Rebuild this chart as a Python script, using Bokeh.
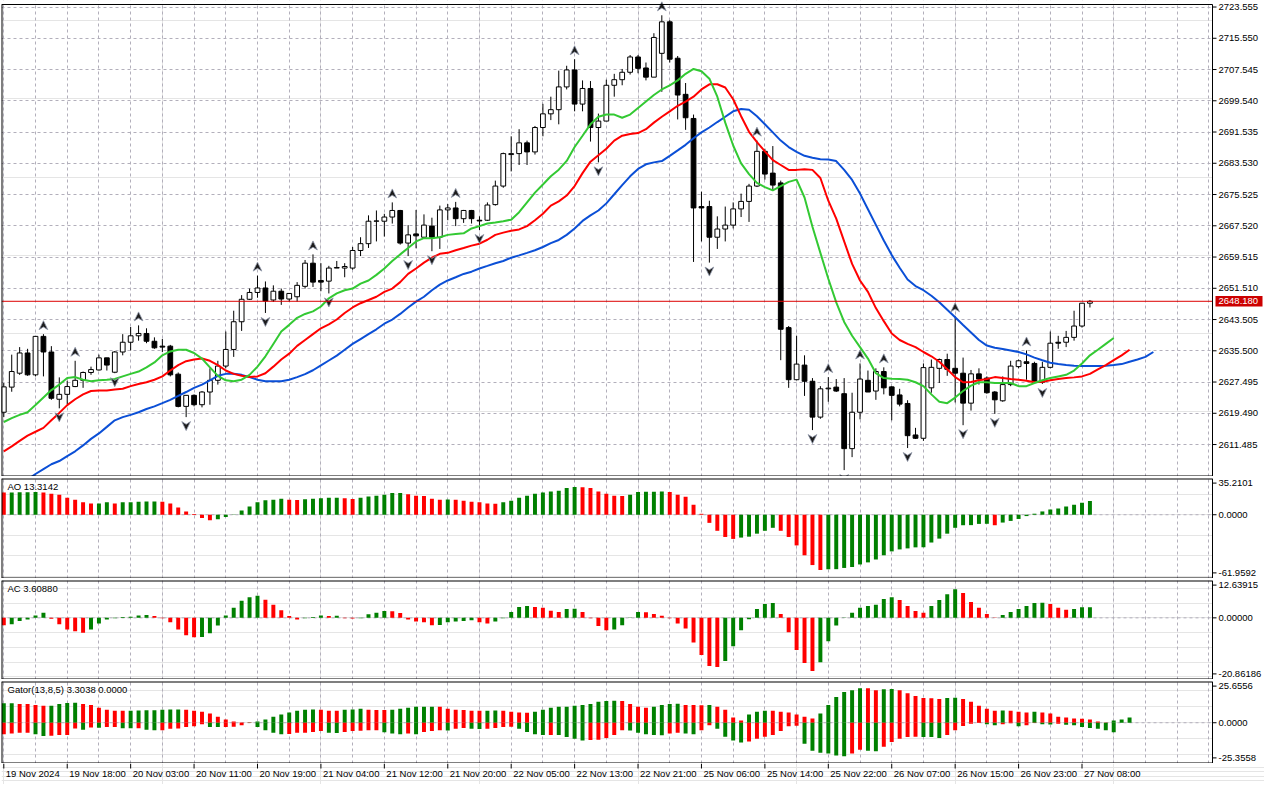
import math
from bokeh.plotting import figure
from bokeh.models import Range1d, FixedTicker, Grid
from bokeh.layouts import column
from bokeh.embed import file_html
from bokeh.resources import INLINE
from bokeh.core.properties import value

NaN = float("nan")

# ---------------- data (XAUUSD H1) ----------------
opens = [2619.76, 2626.19, 2629.76, 2634.94, 2629.34, 2639.19, 2635.19, 2623.09, 2624.34, 2626.34,
         2627.94, 2629.94, 2630.59, 2633.69, 2630.01, 2635.19, 2637.69, 2639.34, 2639.94, 2637.94,
         2636.69, 2636.69, 2629.51, 2621.26, 2624.09, 2621.69, 2624.94, 2627.94, 2631.59, 2635.84,
         2642.94, 2648.69, 2650.44, 2651.59, 2648.51, 2650.76, 2648.76, 2649.34, 2652.01, 2657.94,
         2653.51, 2653.34, 2656.69, 2656.69, 2656.69, 2661.19, 2662.94, 2668.69, 2668.69, 2669.76,
         2671.44, 2663.09, 2665.44, 2664.59, 2667.44, 2664.59, 2671.59, 2672.09, 2669.34, 2671.44,
         2668.94, 2668.94, 2672.94, 2677.69, 2685.76, 2686.01, 2688.76, 2686.44, 2692.69, 2696.19,
         2697.26, 2703.09, 2707.44, 2698.69, 2702.69, 2692.69, 2694.34, 2703.51, 2704.94, 2706.84,
         2710.76, 2707.94, 2705.59, 2711.69, 2719.76, 2710.44, 2701.19, 2695.01, 2672.44, 2672.44,
         2664.59, 2666.69, 2667.69, 2671.84, 2673.76, 2677.69, 2686.59, 2681.01, 2678.51, 2641.44,
         2628.09, 2631.84, 2627.69, 2618.51, 2625.76, 2626.19, 2624.51, 2610.44, 2619.76, 2627.94,
         2625.19, 2630.19, 2626.26, 2624.19, 2622.01, 2613.94, 2613.09, 2626.01, 2631.01, 2633.26,
         2631.01, 2629.76, 2622.09, 2629.59, 2628.51, 2624.94, 2622.69, 2626.84, 2631.44, 2632.69,
         2632.26, 2627.44, 2631.26, 2637.69, 2637.69, 2638.94, 2641.84, 2647.69]
highs = [2627.26, 2634.51, 2636.44, 2636.01, 2639.19, 2639.76, 2636.69, 2628.69, 2627.84, 2632.94,
         2630.19, 2631.44, 2634.51, 2633.69, 2635.44, 2639.76, 2641.59, 2642.01, 2641.26, 2638.94,
         2638.51, 2637.01, 2629.94, 2624.09, 2624.34, 2625.19, 2631.01, 2632.94, 2640.44, 2645.76,
         2649.76, 2651.44, 2654.76, 2653.26, 2652.26, 2651.44, 2650.19, 2653.09, 2658.76, 2660.19,
         2657.94, 2657.26, 2658.51, 2657.94, 2662.09, 2664.59, 2670.19, 2671.44, 2670.59, 2673.51,
         2671.59, 2667.69, 2671.59, 2670.44, 2669.59, 2672.69, 2673.09, 2673.64, 2671.59, 2671.59,
         2669.94, 2673.51, 2679.09, 2686.26, 2690.44, 2692.26, 2689.34, 2693.09, 2698.76, 2700.59,
         2707.26, 2708.51, 2710.19, 2704.76, 2704.59, 2696.26, 2704.94, 2706.44, 2707.69, 2711.26,
         2711.26, 2709.34, 2716.84, 2721.44, 2720.19, 2711.01, 2704.09, 2696.01, 2676.26, 2673.94,
         2669.94, 2672.44, 2673.51, 2675.76, 2678.26, 2689.34, 2687.26, 2687.94, 2679.09, 2641.84,
         2639.34, 2634.34, 2628.51, 2626.44, 2628.76, 2628.26, 2628.51, 2624.76, 2632.26, 2630.44,
         2631.01, 2631.26, 2626.44, 2625.76, 2622.84, 2615.76, 2632.26, 2633.26, 2633.51, 2634.76,
         2644.34, 2633.76, 2630.59, 2631.01, 2628.94, 2625.19, 2628.94, 2632.94, 2633.26, 2635.59,
         2632.69, 2632.69, 2640.44, 2639.34, 2640.59, 2645.76, 2647.69, 2648.51]
lows = [2618.51, 2625.01, 2629.34, 2629.09, 2628.94, 2628.94, 2622.94, 2620.76, 2621.84, 2626.19,
        2626.01, 2629.34, 2630.44, 2630.44, 2629.76, 2634.34, 2635.59, 2638.09, 2637.44, 2636.01,
        2635.19, 2628.94, 2621.01, 2618.51, 2621.26, 2621.01, 2621.69, 2626.84, 2631.01, 2633.94,
        2640.59, 2648.51, 2649.09, 2645.19, 2648.01, 2647.26, 2648.09, 2648.09, 2651.44, 2651.84,
        2650.76, 2650.19, 2656.69, 2654.34, 2656.26, 2659.76, 2661.84, 2663.51, 2664.76, 2668.09,
        2662.69, 2659.76, 2661.76, 2664.34, 2661.01, 2661.59, 2668.94, 2667.44, 2668.26, 2668.09,
        2666.44, 2668.76, 2672.69, 2677.26, 2681.44, 2683.09, 2683.09, 2685.76, 2690.44, 2694.59,
        2693.51, 2702.44, 2696.84, 2696.84, 2689.09, 2683.76, 2694.34, 2700.59, 2703.51, 2706.26,
        2706.59, 2704.76, 2705.59, 2701.84, 2709.34, 2694.76, 2692.09, 2658.26, 2663.51, 2658.09,
        2661.59, 2663.51, 2666.84, 2669.76, 2668.51, 2677.44, 2679.34, 2676.59, 2633.09, 2626.01,
        2627.94, 2623.94, 2615.19, 2618.09, 2622.44, 2624.94, 2604.94, 2608.26, 2617.94, 2624.94,
        2622.94, 2624.34, 2617.69, 2621.26, 2610.59, 2612.90, 2612.44, 2624.76, 2627.26, 2629.09,
        2622.26, 2616.44, 2620.19, 2626.84, 2624.50, 2619.34, 2622.44, 2626.44, 2631.01, 2628.09,
        2627.39, 2627.01, 2631.01, 2636.01, 2636.44, 2638.09, 2641.44, 2646.59]
closes = [2626.26, 2630.19, 2634.94, 2629.34, 2639.19, 2635.19, 2623.34, 2624.34, 2626.34, 2627.94,
          2629.94, 2630.69, 2633.69, 2631.84, 2635.19, 2637.69, 2639.34, 2639.94, 2637.94, 2636.26,
          2636.44, 2629.34, 2621.26, 2624.09, 2621.69, 2624.94, 2627.94, 2631.59, 2635.84, 2642.94,
          2648.69, 2650.44, 2651.59, 2648.26, 2650.76, 2648.76, 2650.19, 2652.26, 2657.94, 2653.09,
          2653.09, 2656.69, 2656.84, 2657.09, 2661.19, 2662.94, 2668.69, 2668.76, 2669.76, 2671.44,
          2663.09, 2665.19, 2664.94, 2667.69, 2664.59, 2671.59, 2672.09, 2669.34, 2671.44, 2669.34,
          2668.76, 2672.84, 2677.69, 2686.01, 2686.01, 2688.76, 2686.44, 2692.69, 2696.19, 2697.26,
          2703.09, 2707.44, 2698.69, 2702.69, 2692.69, 2694.34, 2703.51, 2704.94, 2706.84, 2710.76,
          2707.84, 2705.59, 2715.76, 2719.76, 2710.19, 2701.01, 2695.19, 2672.09, 2672.09, 2664.59,
          2666.69, 2667.69, 2671.84, 2673.76, 2677.69, 2686.59, 2680.76, 2677.94, 2641.01, 2628.09,
          2632.09, 2627.69, 2618.51, 2625.76, 2625.94, 2625.19, 2610.44, 2619.76, 2628.26, 2624.94,
          2630.19, 2626.01, 2624.09, 2621.84, 2613.76, 2613.09, 2631.19, 2631.26, 2633.26, 2630.76,
          2629.76, 2622.09, 2629.59, 2628.26, 2624.76, 2622.94, 2626.84, 2631.59, 2632.94, 2632.26,
          2627.44, 2631.26, 2637.44, 2637.44, 2638.94, 2641.84, 2647.69, 2648.18]

# Alligator (already shifted as drawn): lips 3, teeth 5, jaw 8 bars ahead
lips = [2617.26, 2618.26, 2619.09, 2619.76, 2621.59, 2623.51, 2625.44, 2626.84, 2628.51, 2628.76,
        2628.09, 2627.69, 2627.94, 2628.09, 2628.26, 2628.94, 2629.59, 2630.19, 2631.26, 2632.51,
        2634.34, 2635.34, 2635.76, 2635.76, 2634.94, 2633.51, 2631.26, 2629.09, 2627.94, 2627.69,
        2628.09, 2629.34, 2631.44, 2634.09, 2637.26, 2640.44, 2642.14, 2643.94, 2644.94, 2645.59,
        2646.84, 2648.94, 2650.19, 2651.01, 2651.44, 2652.69, 2653.51, 2654.94, 2656.59, 2658.51,
        2660.19, 2661.84, 2663.51, 2664.34, 2664.34, 2664.59, 2665.19, 2665.44, 2665.59, 2666.84,
        2667.44, 2668.09, 2668.34, 2668.69, 2669.09, 2671.01, 2673.51, 2676.01, 2678.09, 2680.19,
        2681.89, 2684.14, 2687.69, 2690.59, 2693.51, 2695.44, 2696.01, 2696.01, 2695.19, 2696.01,
        2697.69, 2699.34, 2701.01, 2702.44, 2703.51, 2704.76, 2706.44, 2707.69, 2707.09, 2705.19,
        2700.59, 2693.94, 2688.09, 2683.51, 2680.76, 2678.51, 2677.44, 2676.59, 2677.69, 2678.76,
        2679.34, 2674.76, 2667.26, 2660.59, 2653.94, 2647.89, 2642.89, 2639.34, 2636.44, 2633.51,
        2629.76, 2628.51, 2628.34, 2628.26, 2628.09, 2627.44, 2626.44, 2624.34, 2622.44, 2622.09,
        2623.51, 2625.19, 2626.59, 2627.44, 2627.44, 2627.26, 2627.26, 2627.26, 2626.44, 2626.44,
        2627.26, 2627.94, 2628.51, 2628.94, 2629.34, 2630.44, 2632.26, 2634.34, 2635.76, 2637.26,
        2638.76]
teeth = [2609.76, 2611.01, 2612.44, 2613.76, 2614.76, 2615.76, 2617.69, 2619.59, 2621.59, 2623.09,
         2624.34, 2625.19, 2625.34, 2625.34, 2625.59, 2625.76, 2626.44, 2627.01, 2627.44, 2628.09,
         2628.94, 2630.44, 2631.84, 2632.84, 2633.26, 2633.51, 2632.94, 2631.84, 2630.44, 2629.59,
         2629.09, 2628.76, 2628.94, 2629.76, 2631.44, 2633.26, 2634.76, 2636.76, 2638.26, 2639.76,
         2641.26, 2642.26, 2643.51, 2645.19, 2646.59, 2647.69, 2648.51, 2649.34, 2650.59, 2651.44,
         2653.09, 2655.19, 2656.59, 2658.09, 2659.34, 2660.34, 2660.59, 2661.26, 2661.84, 2662.44,
         2662.94, 2663.94, 2665.19, 2665.76, 2666.26, 2666.59, 2667.44, 2668.94, 2670.59, 2672.69,
         2673.76, 2675.26, 2677.69, 2681.01, 2683.94, 2685.59, 2687.26, 2689.34, 2690.59, 2691.01,
         2691.26, 2692.26, 2693.94, 2695.44, 2696.84, 2698.26, 2699.34, 2700.59, 2702.44, 2703.76,
         2703.76, 2702.94, 2699.94, 2695.59, 2691.59, 2688.94, 2686.59, 2684.34, 2683.09, 2681.84,
         2681.84, 2682.01, 2681.84, 2679.76, 2673.94, 2669.34, 2663.51, 2657.76, 2653.51, 2650.59,
         2646.44, 2643.09, 2639.94, 2638.26, 2637.26, 2636.44, 2635.19, 2634.09, 2632.69, 2630.76,
         2628.76, 2627.44, 2627.51, 2627.94, 2628.26, 2628.76, 2628.51, 2628.26, 2628.09, 2627.84,
         2627.44, 2627.59, 2627.94, 2628.26, 2628.51, 2628.69, 2628.94, 2629.59, 2630.76, 2631.84,
         2633.09, 2634.34, 2635.76]
jaw = [NaN, NaN, NaN, 2602.5, 2603.94, 2605.19, 2606.44, 2607.26, 2608.51, 2609.76,
       2611.26, 2612.94, 2614.34, 2616.01, 2617.69, 2618.51, 2619.09, 2619.76, 2620.59, 2621.26,
       2622.09, 2622.94, 2623.94, 2624.94, 2626.01, 2626.84, 2627.94, 2629.09, 2629.59, 2629.59,
       2629.34, 2628.76, 2628.09, 2627.69, 2627.69, 2627.69, 2628.09, 2628.76, 2629.51, 2630.51,
       2631.76, 2633.01, 2634.26, 2635.76, 2637.26, 2638.51, 2639.76, 2641.01, 2642.44, 2643.51,
       2644.94, 2646.59, 2648.09, 2649.34, 2651.01, 2652.44, 2653.51, 2654.34, 2655.19, 2655.76,
       2656.59, 2657.26, 2657.94, 2658.51, 2659.34, 2659.94, 2660.59, 2661.26, 2662.09, 2663.09,
       2663.89, 2665.19, 2666.84, 2668.76, 2670.19, 2671.44, 2673.26, 2675.59, 2677.94, 2680.19,
       2682.09, 2683.26, 2683.76, 2684.09, 2685.44, 2686.84, 2688.26, 2689.94, 2691.44, 2692.69,
       2694.09, 2695.44, 2696.84, 2697.44, 2697.26, 2695.59, 2693.51, 2691.44, 2689.34, 2687.69,
       2686.44, 2685.44, 2684.94, 2684.59, 2684.51, 2684.09, 2681.84, 2679.26, 2675.76, 2671.76,
       2667.76, 2663.76, 2660.01, 2656.76, 2653.76, 2652.09, 2651.01, 2649.59, 2647.94, 2646.01,
       2644.09, 2642.09, 2640.19, 2638.26, 2636.84, 2636.26, 2635.94, 2635.59, 2635.19, 2634.59,
       2633.76, 2633.09, 2632.44, 2632.09, 2631.84, 2631.69, 2631.59, 2631.59, 2631.59, 2631.69,
       2631.84, 2632.09, 2632.69, 2633.26, 2633.94, 2635.19]

# Bill Williams fractals (bar indices)
up_fractals = [5, 9, 17, 32, 39, 49, 57, 72, 83, 95, 104, 108, 111, 120, 129]
down_fractals = [7, 14, 23, 33, 41, 51, 54, 60, 75, 89, 102, 106, 114, 121, 125, 131]

ao = [21.6, 21.7, 21.8, 21.9, 22.0, 21.7, 20.5, 19.4, 16.5, 14.6,
      12.1, 10.8, 10.9, 12.1, 10.8, 12.1, 12.2, 12.7, 12.8, 12.9,
      12.7, 10.8, 7.0, 3.2, 0.6, -3.2, -5.4, -4.4, -2.2, 0.3,
      4.1, 7.9, 12.1, 14.0, 14.6, 15.6, 14.6, 14.4, 15.0, 15.6,
      15.9, 16.5, 16.6, 15.9, 15.2, 16.5, 17.8, 18.4, 19.4, 21.0,
      21.1, 20.0, 18.4, 18.2, 15.6, 14.6, 14.8, 14.5, 13.7, 12.7,
      12.1, 10.8, 10.6, 12.1, 13.7, 16.5, 18.4, 20.3, 21.6, 22.5,
      23.2, 26.0, 27.0, 26.8, 26.0, 22.5, 20.3, 18.4, 18.2, 19.4,
      22.2, 22.3, 22.4, 22.5, 22.2, 19.4, 17.5, 9.8, 0.9, -7.9,
      -15.6, -21.6, -23.5, -22.2, -21.3, -18.4, -15.6, -12.7, -15.6, -21.6,
      -29.8, -39.4, -48.9, -53.7, -53.0, -52.9, -51.7, -50.8, -48.3, -46.3,
      -43.5, -39.4, -35.6, -33.7, -32.7, -31.7, -31.6, -27.0, -23.2, -18.4,
      -12.7, -10.2, -10.1, -8.9, -8.8, -10.2, -7.6, -6.0, -4.1, -1.3,
      1.0, 3.2, 5.1, 6.0, 7.9, 9.8, 11.7, 13.3142]
ac = [-2.5, -2.2, -1.1, -0.6, 0.8, 1.7, -0.3, -2.2, -3.9, -4.5,
      -5.0, -3.9, -1.9, -0.6, -0.1, 0.3, 0.4, 0.8, 1.0, 0.6,
      -0.1, -1.5, -3.9, -5.9, -6.6, -6.5, -5.2, -2.6, 0.8, 3.4,
      5.8, 7.0, 7.5, 6.1, 4.4, 2.6, 0.6, -0.6, -0.1, 0.3,
      0.8, 0.6, 0.7, -0.1, -0.2, -0.1, 1.2, 1.7, 2.3, 2.2,
      1.6, -0.6, -1.2, -1.5, -2.5, -2.4, -1.5, -1.2, -1.1, -0.8,
      -1.5, -1.9, -1.2, -0.1, 2.0, 3.7, 4.0, 3.7, 3.4, 2.4,
      2.0, 3.0, 3.05, 2.0, -0.1, -2.8, -4.2, -3.9, -2.5, 0.1,
      2.0, 1.9, 1.3, 0.7, -0.1, -1.9, -3.6, -8.3, -12.6, -16.3,
      -16.6, -14.6, -9.6, -4.2, -0.5, 3.0, 4.7, 5.0, 1.3, -4.9,
      -10.9, -15.3, -18.0, -15.0, -7.9, -2.6, 0.1, 1.7, 3.4, 4.0,
      4.4, 6.4, 7.0, 6.0, 4.0, 2.3, 1.7, 4.0, 6.0, 8.0,
      9.7, 8.4, 5.4, 3.4, 1.3, 0.1, 1.0, 2.0, 3.0, 4.0,
      5.0, 5.1, 4.7, 3.4, 2.7, 3.0, 3.55, 3.6088]
gator_up = [12.1, 12.15, 11.7, 11.7, 11.1, 10.5, 10.6, 11.7, 12.3, 12.4,
            11.7, 11.1, 9.3, 8.1, 7.5, 7.4, 7.5, 7.6, 7.7, 7.8,
            8.1, 8.2, 8.3, 8.1, 7.5, 6.9, 5.7, 3.8, 2.0, 0.8,
            0.1, 0.2, 0.8, 2.0, 3.8, 5.1, 6.3, 7.5, 8.1, 8.2,
            8.1, 7.5, 7.4, 8.1, 8.2, 8.7, 8.1, 8.0, 7.9, 8.1,
            8.7, 9.3, 9.9, 9.95, 10.0, 9.9, 8.7, 8.1, 8.0, 7.5,
            7.4, 7.5, 7.6, 7.5, 6.9, 6.3, 6.2, 6.9, 8.1, 9.3,
            9.9, 10.0, 10.5, 11.1, 11.7, 13.0, 13.6, 13.7, 13.6, 11.7,
            9.9, 9.3, 9.9, 11.1, 11.7, 11.8, 11.1, 11.0, 10.9, 11.1,
            9.9, 8.1, 3.2, 1.4, 5.1, 6.9, 7.5, 7.4, 6.9, 6.3,
            5.1, 3.8, 2.6, 5.7, 11.1, 16.0, 19.2, 20.2, 21.5, 21.4,
            20.2, 20.9, 21.0, 20.2, 18.4, 16.6, 15.4, 15.3, 14.8, 15.4,
            15.5, 14.8, 13.0, 10.5, 8.7, 7.5, 7.6, 7.5, 6.9, 6.3,
            6.9, 6.3, 5.7, 3.8, 3.2, 2.6, 2.5, 2.0, 0.8, 0.1,
            1.4, 2.0, 3.3038]
gator_dn = [-7.1, -6.7, -6.3, -6.3, -7.1, -8.3, -8.1, -7.7, -7.6, -3.6,
            -4.3, -3.0, -3.1, -2.6, -2.6, -3.4, -3.5, -3.4, -4.3, -4.7,
            -4.6, -3.8, -3.6, -2.6, -2.2, -1.0, -2.6, -2.7, -2.6, -2.5,
            -1.6, -0.2, -2.6, -4.7, -6.3, -7.1, -7.0, -6.3, -6.2, -5.7,
            -5.1, -6.3, -6.4, -5.7, -5.1, -5.0, -4.7, -4.6, -5.9, -6.7,
            -7.1, -6.7, -7.1, -5.7, -5.1, -4.7, -4.75, -3.8, -3.2, -3.8,
            -3.9, -3.8, -3.2, -2.6, -2.5, -3.8, -5.7, -7.1, -7.7, -7.6,
            -7.7, -8.9, -9.9, -11.1, -10.7, -10.6, -9.5, -7.7, -4.7, -4.8,
            -6.3, -7.1, -7.7, -7.8, -6.7, -6.3, -6.7, -7.1, -4.7, -1.6,
            -3.8, -8.7, -11.1, -12.3, -11.7, -9.9, -8.7, -7.7, -5.1, -2.2,
            -1.8, -13.0, -17.5, -18.6, -19.2, -20.4, -20.9, -19.2, -16.8, -17.4,
            -17.8, -15.0, -12.0, -9.9, -8.9, -8.7, -8.8, -8.9, -9.5, -7.7,
            -4.7, -2.0, -0.6, -0.2, -1.0, -1.6, -1.0, -0.3, -2.2, -1.6,
            -0.2, -1.0, -1.1, -0.6, -1.2, -1.6, -2.6, -3.2, -3.8, -4.7,
            -5.9, 0.0]

price_ticks = [2611.485, 2619.490, 2627.495, 2635.500, 2643.505, 2651.510, 2659.515, 2667.520,
               2675.525, 2683.530, 2691.535, 2699.540, 2707.545, 2715.550, 2723.555]
price_panel = (2603.3, 2724.2)   # visible price span of the main panel
last_price = 2648.18
time_idx = list(range(0, 137, 8))
time_labels = ["19 Nov 2024", "19 Nov 18:00", "20 Nov 03:00", "20 Nov 11:00", "20 Nov 19:00",
               "21 Nov 04:00", "21 Nov 12:00", "21 Nov 20:00", "22 Nov 05:00", "22 Nov 13:00",
               "22 Nov 21:00", "25 Nov 06:00", "25 Nov 14:00", "25 Nov 22:00", "26 Nov 07:00",
               "26 Nov 15:00", "26 Nov 23:00", "27 Nov 08:00"]
ao_range = (-61.9592, 35.2101)
ac_range = (-20.86186, 12.63915)
gator_range = (-25.3558, 25.6556)

# ---------------- styling / geometry ----------------
FONT = "Liberation Sans"
FS = "9.5px"
GRID_COLOR = "#b2afbb"
UP = "#008000"
DN = "#ff0000"
W = 1264
SCALE_W = 52                       # width of the price-scale strip on the right
FIRST_BAR, EDGE = -0.29, 152.46    # bar-index span of the plotting area
PX = (W - 1 - SCALE_W) / (EDGE - FIRST_BAR)   # pixels per bar
XR = Range1d(FIRST_BAR, FIRST_BAR + (W - 1) / PX)   # frame spans plot area + scale strip
vgrid = list(range(0, 153, 4))


def rise_colors(vals, first, use_abs=False):
    cols = [first]
    for i in range(1, len(vals)):
        a, b = vals[i], vals[i - 1]
        if use_abs:
            a, b = abs(a), abs(b)
        cols.append(UP if a > b else DN)
    return cols


def make_fig(h, yr, top_gap):
    f = figure(width=W, height=h, x_range=XR, y_range=Range1d(*yr),
               output_backend="svg", toolbar_location=None,
               x_axis_location=None, y_axis_location=None,
               min_border_left=1, min_border_right=0,
               min_border_top=top_gap, min_border_bottom=0)
    f.outline_line_color = None
    f.background_fill_color = "white"
    f.border_fill_color = "white"
    f.add_layout(Grid(dimension=0, ticker=FixedTicker(ticks=vgrid),
                      grid_line_color=GRID_COLOR, grid_line_dash="3 3", grid_line_width=1))
    return f


def finish_panel(f, y_bottom, y_top, ppu, tick_pos, tick_text):
    """white strip under the scale, panel border, scale ticks and labels"""
    yr = f.y_range
    f.quad(left=[EDGE], right=[XR.end], bottom=[yr.start], top=[yr.end],
           fill_color="white", line_color=None)
    f.segment(x0=[XR.start, XR.start, XR.start, EDGE],
              y0=[y_top, y_bottom, y_bottom, y_bottom],
              x1=[EDGE, EDGE, XR.start, EDGE],
              y1=[y_top, y_bottom, y_top, y_top],
              line_color="black",
              line_width=[2 if y_top >= yr.end else 1, 2 if y_bottom <= yr.start else 1, 2, 1])
    tl = 4.0 / PX
    f.segment(x0=[EDGE] * len(tick_pos), y0=tick_pos, x1=[EDGE + tl] * len(tick_pos), y1=tick_pos,
              line_color="black", line_width=1)
    f.text(x=[EDGE + 6.0 / PX] * len(tick_pos), y=tick_pos, text=tick_text,
           text_align="left", text_baseline="middle",
           text_font=value(FONT), text_font_size=value(FS), text_color="black")


def panel_title(f, y_top, ppu, txt):
    f.text(x=[XR.start + 6.0 / PX], y=[y_top - 2.5 / ppu], text=[txt], text_align="left",
           text_baseline="top", text_font=value(FONT), text_font_size=value(FS),
           text_color="black")


n = len(closes)
idx = list(range(n))

# ---------------- main price panel ----------------
MAIN_H, MAIN_TOP_PAD = 476, 4
PPU = (MAIN_H - MAIN_TOP_PAD) / (price_panel[1] - price_panel[0])
main = make_fig(MAIN_H, (price_panel[0], price_panel[1] + MAIN_TOP_PAD / PPU), 0)
main.add_layout(Grid(dimension=1, ticker=FixedTicker(ticks=price_ticks),
                     grid_line_color=GRID_COLOR, grid_line_dash="3 3", grid_line_width=1))
# white margin above the panel box
main.quad(left=[XR.start], right=[XR.end], bottom=[price_panel[1]], top=[main.y_range.end],
          fill_color="white", line_color=None)

main.segment(x0=idx, y0=lows, x1=idx, y1=highs, line_color="black", line_width=1)
body_top = [max(o, c) for o, c in zip(opens, closes)]
body_bot = [min(o, c) for o, c in zip(opens, closes)]
body_fill = ["white" if c >= o else "black" for o, c in zip(opens, closes)]
main.vbar(x=idx, top=body_top, bottom=body_bot, width=0.6,
          fill_color=body_fill, line_color="black", line_width=1)

main.line(list(range(len(jaw))), jaw, line_color="#0b4fd6", line_width=2)
main.line(list(range(len(teeth))), teeth, line_color="#ff0000", line_width=2)
main.line(list(range(len(lips))), lips, line_color="#33c933", line_width=2)

fx, fy = [], []
for k in up_fractals:
    c = highs[k] + 2.3
    fx.append([k, k + 0.55, k, k - 0.55])
    fy.append([c + 1.15, c - 1.15, c - 0.45, c - 1.15])
for k in down_fractals:
    c = lows[k] - 2.3
    fx.append([k, k + 0.55, k, k - 0.55])
    fy.append([c - 1.15, c + 1.15, c + 0.45, c + 1.15])
main.patches(fx, fy, fill_color="#1c1c1c", line_color="#8f97aa", line_width=0.8)

main.segment(x0=[XR.start], y0=[last_price], x1=[EDGE], y1=[last_price],
             line_color="#dd0000", line_width=1)

finish_panel(main, price_panel[0], price_panel[1], PPU, price_ticks,
             ["%.3f" % t for t in price_ticks])

half_h = 5.2 / PPU
main.quad(left=[EDGE + 3.0 / PX], right=[EDGE + 50.0 / PX],
          bottom=[last_price - half_h], top=[last_price + half_h],
          fill_color="#cc0000", line_color=None)
main.text(x=[EDGE + 6.0 / PX], y=[last_price], text=["%.3f" % last_price],
          text_align="left", text_baseline="middle",
          text_font=value(FONT), text_font_size=value(FS), text_color="white")


# ---------------- oscillator panels ----------------
def osc_panel(h, rng, digits, title):
    ppu = h / (rng[1] - rng[0])
    f = make_fig(h + 2, rng, 2)
    f.segment(x0=[XR.start], y0=[0], x1=[EDGE], y1=[0], line_color=GRID_COLOR,
              line_dash="3 3", line_width=1)
    return f, ppu


def osc_finish(f, rng, ppu, digits, title):
    fmt = "%." + str(digits) + "f"
    finish_panel(f, rng[0], rng[1], ppu,
                 [rng[1] - 4.6 / ppu, 0.0, rng[0] + 5.6 / ppu],
                 [fmt % rng[1], fmt % 0.0, fmt % rng[0]])
    panel_title(f, rng[1], ppu, title)


ao_f, ao_ppu = osc_panel(100, ao_range, 4, "")
ao_f.vbar(x=idx, top=ao, bottom=0, width=0.5, fill_color=rise_colors(ao, DN), line_color=None)
osc_finish(ao_f, ao_range, ao_ppu, 4, "AO %.4f" % ao[-1])

ac_f, ac_ppu = osc_panel(99, ac_range, 5, "")
ac_f.vbar(x=idx, top=ac, bottom=0, width=0.5, fill_color=rise_colors(ac, DN), line_color=None)
osc_finish(ac_f, ac_range, ac_ppu, 5, "AC %.5f" % ac[-1])

gt_f, gt_ppu = osc_panel(82, gator_range, 4, "")
gt_f.vbar(x=list(range(len(gator_up))), top=gator_up, bottom=0, width=0.5,
          fill_color=rise_colors(gator_up, UP), line_color=None)
gt_f.vbar(x=list(range(len(gator_dn))), top=0, bottom=gator_dn, width=0.5,
          fill_color=rise_colors(gator_dn, DN, use_abs=True), line_color=None)
osc_finish(gt_f, gator_range, gt_ppu, 4,
           "Gator(13,8,5) %.4f %.4f" % (gator_up[-1], abs(gator_dn[-1])))

# ---------------- time axis row (ticks + left-aligned labels) ----------------
LAB_H = 21
lab = figure(width=W, height=LAB_H, x_range=XR, y_range=Range1d(0, 1), output_backend="svg",
             toolbar_location=None, x_axis_location=None, y_axis_location=None,
             min_border_left=1, min_border_right=0, min_border_top=0, min_border_bottom=0)
lab.outline_line_color = None
lab.background_fill_color = "white"
lab.border_fill_color = "white"
lab.segment(x0=time_idx, y0=[1.0] * len(time_idx), x1=time_idx,
            y1=[1.0 - 5.0 / LAB_H] * len(time_idx), line_color="black", line_width=1)
lab.text(x=time_idx, y=[1.0 - 10.0 / LAB_H] * len(time_idx), text=time_labels, text_align="left",
         text_baseline="middle", x_offset=2, text_font=value(FONT),
         text_font_size=value(FS), text_color="black")

layout = column(main, ao_f, ac_f, gt_f, lab, spacing=0)
open("out.html", "w").write(file_html(layout, INLINE, title="XAUUSD H1"))
